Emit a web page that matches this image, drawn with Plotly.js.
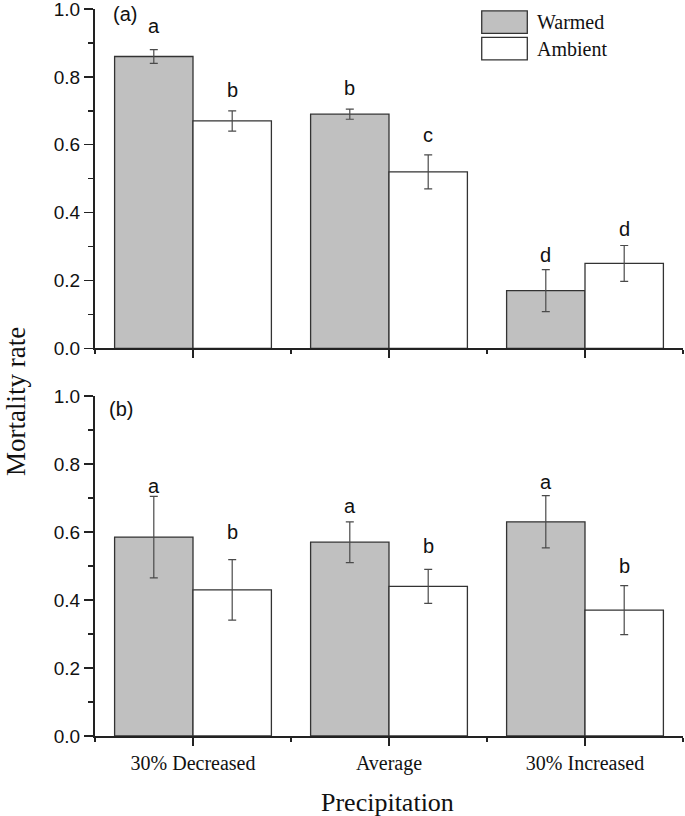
<!DOCTYPE html>
<html>
<head>
<meta charset="utf-8">
<script src="https://cdn.plot.ly/plotly-3.0.1.min.js"></script>
<style>html,body{margin:0;padding:0;background:#fff;}#chart{width:685px;height:816px;}</style>
</head>
<body>
<div id="chart"></div>
<script>
// ---- data ----
const categories = ["30% Decreased", "Average", "30% Increased"];
const seriesNames = ["Warmed", "Ambient"];
const yTickVals = [0, 0.2, 0.4, 0.6, 0.8, 1.0];
const yMinorVals = [0.1, 0.3, 0.5, 0.7, 0.9];

// panel (a)
const warmedA = [0.86, 0.69, 0.17];
const warmedAErr = [0.02, 0.015, 0.062];
const ambientA = [0.67, 0.52, 0.25];
const ambientAErr = [0.03, 0.05, 0.053];
const warmedALetters = ["a", "b", "d"];
const ambientALetters = ["b", "c", "d"];
const warmedALetterY = [0.928, 0.747, 0.255];
const ambientALetterY = [0.742, 0.609, 0.331];

// panel (b)
const warmedB = [0.585, 0.57, 0.63];
const warmedBErr = [0.12, 0.06, 0.077];
const ambientB = [0.43, 0.44, 0.37];
const ambientBErr = [0.089, 0.05, 0.072];
const warmedBLetters = ["a", "a", "a"];
const ambientBLetters = ["b", "b", "b"];
const warmedBLetterY = [0.715, 0.655, 0.725];
const ambientBLetterY = [0.578, 0.537, 0.480];

const panelLabels = ["(a)", "(b)"];
const yTitle = "Mortality rate";
const xTitle = "Precipitation";

// ---- styles ----
const GRAY = "#c0c0c0";
const WHITE = "#ffffff";
const OUTLINE = "#333333";
const AXIS = "#222222";
const ERR = "#4a4a4a";
const SERIF = "'Times New Roman', 'Liberation Serif', serif";
const SANS = "Arial, 'Liberation Sans', sans-serif";
const BARGAP = 0.2;
const offset = (1 - BARGAP) / 4;

const xIdx = categories.map((_, i) => i);
const xMinor = [-0.5].concat(xIdx.map(i => i + 0.5));

function barTrace(name, y, err, color, xa, ya) {
  return {
    type: "bar", name: name, x: xIdx, y: y, xaxis: xa, yaxis: ya,
    marker: {color: color, line: {color: OUTLINE, width: 1.3}},
    error_y: {type: "data", array: err, visible: true, color: ERR, thickness: 1.2, width: 4},
    showlegend: false, hoverinfo: "skip"
  };
}

const data = [
  barTrace(seriesNames[0], warmedA, warmedAErr, GRAY, "x2", "y2"),
  barTrace(seriesNames[1], ambientA, ambientAErr, WHITE, "x2", "y2"),
  barTrace(seriesNames[0], warmedB, warmedBErr, GRAY, "x", "y"),
  barTrace(seriesNames[1], ambientB, ambientBErr, WHITE, "x", "y")
];

function xAxis(anchor, showLabels) {
  return {
    anchor: anchor, range: [-0.5, 2.5], showgrid: false, zeroline: false,
    showline: true, linecolor: AXIS, linewidth: 2,
    tickmode: "array", tickvals: xIdx, ticktext: categories,
    ticks: "outside", ticklen: 8, tickwidth: 1.5, tickcolor: AXIS,
    showticklabels: showLabels,
    tickfont: {family: SERIF, size: 20, color: "#111"},
    minor: {tickvals: xMinor, ticks: "outside", ticklen: 4, tickwidth: 1.5, tickcolor: AXIS},
    fixedrange: true
  };
}
function yAxis(anchor, domain) {
  return {
    anchor: anchor, domain: domain, range: [0, 1], showgrid: false, zeroline: false,
    showline: true, linecolor: AXIS, linewidth: 2,
    tickmode: "array", tickvals: yTickVals, ticktext: yTickVals.map(v => v.toFixed(1)),
    ticks: "outside", ticklen: 9, tickwidth: 1.5, tickcolor: AXIS,
    ticklabeloverflow: "allow",
    tickfont: {family: SANS, size: 19, color: "#111"},
    minor: {tickvals: yMinorVals, ticks: "outside", ticklen: 5, tickwidth: 1.5, tickcolor: AXIS},
    fixedrange: true
  };
}

const annotations = [];
function letters(texts, ys, sign, xref, yref) {
  texts.forEach((t, i) => {
    annotations.push({
      x: xIdx[i] + sign * offset, y: ys[i], xref: xref, yref: yref,
      text: t, showarrow: false, xanchor: "center", yanchor: "bottom", yshift: -6,
      font: {family: SANS, size: 20, color: "#111"}
    });
  });
}
letters(warmedALetters, warmedALetterY, -1, "x2", "y2");
letters(ambientALetters, ambientALetterY, 1, "x2", "y2");
letters(warmedBLetters, warmedBLetterY, -1, "x", "y");
letters(ambientBLetters, ambientBLetterY, 1, "x", "y");

// panel labels
annotations.push({x: 0.027, y: 0.985, xref: "x2 domain", yref: "y2 domain", text: panelLabels[0],
  showarrow: false, xanchor: "left", yanchor: "middle", font: {family: SANS, size: 20, color: "#111"}});
annotations.push({x: 0.02, y: 0.962, xref: "x domain", yref: "y domain", text: panelLabels[1],
  showarrow: false, xanchor: "left", yanchor: "middle", font: {family: SANS, size: 20, color: "#111"}});

// axis titles
annotations.push({x: -0.1345, y: 0.4608, xref: "paper", yref: "paper", text: yTitle, textangle: -90,
  showarrow: false, xanchor: "center", yanchor: "middle", font: {family: SERIF, size: 27, color: "#111"}});
annotations.push({x: 0.4974, y: -0.0688, xref: "paper", yref: "paper", text: xTitle,
  showarrow: false, xanchor: "center", yanchor: "top", font: {family: SERIF, size: 26, color: "#111"}});

// legend (drawn)
const legendRows = [[0.9973, 0.9666], [0.9611, 0.9299]];
const legendColors = [GRAY, WHITE];
const shapes = [];
seriesNames.forEach((n, i) => {
  shapes.push({type: "rect", xref: "paper", yref: "paper", x0: 0.6577, x1: 0.7352,
    y0: legendRows[i][1], y1: legendRows[i][0], fillcolor: legendColors[i],
    line: {color: OUTLINE, width: 1.3}});
  annotations.push({x: 0.7483, y: (legendRows[i][0] + legendRows[i][1]) / 2, xref: "paper", yref: "paper",
    text: n, showarrow: false, xanchor: "left", yanchor: "middle",
    font: {family: SERIF, size: 20, color: "#111"}});
});

const layout = {
  width: 685, height: 816,
  margin: {l: 95, r: 2, t: 9, b: 80},
  paper_bgcolor: "#fff", plot_bgcolor: "#fff",
  barmode: "group", bargap: BARGAP, bargroupgap: 0,
  xaxis: xAxis("y", true),
  yaxis: yAxis("x", [0, 0.4677]),
  xaxis2: xAxis("y2", false),
  yaxis2: yAxis("x2", [0.5333, 1]),
  annotations: annotations,
  shapes: shapes,
  showlegend: false
};

Plotly.newPlot("chart", data, layout, {displayModeBar: false, staticPlot: true});
</script>
</body>
</html>
